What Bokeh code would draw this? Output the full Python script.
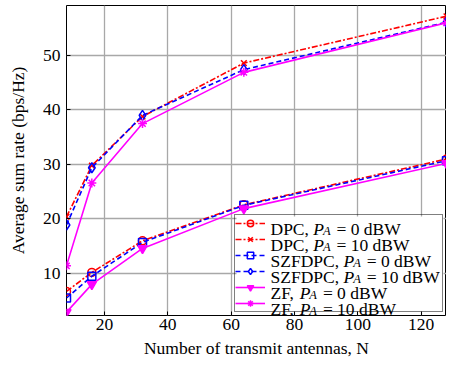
from bokeh.plotting import figure
from bokeh.models import Legend, LegendItem, Label, Range1d, FixedTicker, BoxAnnotation
from bokeh.embed import file_html
from bokeh.resources import INLINE

# ---------------- data ----------------
N = [8, 16, 32, 64, 128]
dpc_0 = [6.7, 10.2, 16.0, 22.6, 31.0]
dpc_10 = [20.4, 29.8, 38.8, 48.6, 57.2]
szf_0 = [5.5, 9.5, 15.7, 22.5, 30.7]
szf_10 = [18.9, 29.4, 39.0, 47.4, 56.1]
zf_0 = [2.9, 8.0, 14.6, 21.9, 30.2]
zf_10 = [11.4, 26.6, 37.5, 46.9, 56.0]

scheme_names = ["DPC", "DPC", "SZFDPC", "SZFDPC", "ZF", "ZF"]
power_values = ["0", "10", "0", "10", "0", "10"]
x_ticks = [20, 40, 60, 80, 100, 120]
y_ticks = [10, 20, 30, 40, 50]
x_label_text = "Number of transmit antennas, N"
y_label_text = "Average sum rate (bps/Hz)"

# ---------------- style ----------------
FONT = "Times New Roman"
FS = 17.5
W, H = 446, 362
BL, BR, BT, BB = 66, 0, 5, 47
FW, FH = W - BL - BR, H - BT - BB

p = figure(width=W, height=H, output_backend="svg", toolbar_location=None,
           x_range=Range1d(8, 128), y_range=Range1d(2.29, 59.17),
           min_border_left=BL, min_border_right=BR, min_border_top=BT,
           min_border_bottom=BB)
p.background_fill_color = "white"
p.border_fill_color = "white"
p.outline_line_color = "black"
p.outline_line_width = 1

p.xaxis.ticker = FixedTicker(ticks=x_ticks)
p.yaxis.ticker = FixedTicker(ticks=y_ticks)
for ax in (p.xaxis[0], p.yaxis[0]):
    ax.axis_line_color = None
    ax.major_tick_in = 4
    ax.major_tick_out = 0
    ax.minor_tick_in = 0
    ax.minor_tick_out = 0
    ax.major_tick_line_color = "black"
    ax.major_label_text_font = FONT
    ax.major_label_text_font_size = f"{FS}px"
    ax.major_label_text_color = "black"
    ax.axis_label_text_font = FONT
    ax.axis_label_text_font_size = f"{FS}px"
    ax.axis_label_text_font_style = "normal"
    ax.axis_label_text_color = "black"
p.xaxis.major_label_standoff = 3
p.yaxis.major_label_standoff = 6
p.yaxis.axis_label = y_label_text
p.yaxis.axis_label_standoff = 12
p.xaxis.axis_label = x_label_text
p.xaxis.axis_label_standoff = 5

p.grid.grid_line_color = "#a8a8a8"
p.grid.grid_line_width = 1.3

# ---------------- series ----------------
series = [
    (dpc_0, "red", "6 2 2 2", "circle", 8),
    (dpc_10, "red", "6 2 2 2", "x", 8),
    (szf_0, "blue", "5 3", "square", 8),
    (szf_10, "blue", "5 3", "diamond", 10),
    (zf_0, "magenta", "solid", "inverted_triangle", 9),
    (zf_10, "magenta", "solid", "asterisk", 9),
]
items = []
for ys, col, dash, mk, sz in series:
    lr = p.line(N, ys, line_color=col, line_width=1.6, line_dash=dash)
    fill = col if mk == "inverted_triangle" else None
    sr = p.scatter(N, ys, marker=mk, size=sz, line_color=col, line_width=1.5,
                   fill_color=fill)
    items.append(LegendItem(label=" ", renderers=[lr, sr]))

# ---------------- legend ----------------
GW, GS, LW, RH, SP, MG = 30, 4, 173, 16, 0, 3
leg_w = GW + GS + LW
leg_h = len(items) * RH + (len(items) - 1) * SP
box = BoxAnnotation(left=FW - MG - leg_w, right=FW - MG, bottom=MG, top=MG + leg_h,
                    left_units="screen", right_units="screen",
                    bottom_units="screen", top_units="screen",
                    fill_color="white", fill_alpha=1.0, line_color=None,
                    level="underlay")
p.add_layout(box)
legend = Legend(items=items, location="bottom_right", margin=MG, padding=0,
                spacing=SP, glyph_width=GW, glyph_height=RH, label_height=RH,
                label_width=LW, label_standoff=GS, label_text_font_size="6px",
                border_line_color="black", border_line_width=1,
                background_fill_alpha=0.0)
p.add_layout(legend)

# Times-compatible advance widths (em)
ROMAN = {" ": .25, ",": .25, "=": .564, "0": .5, "1": .5, "A": .722, "B": .667,
         "C": .667, "D": .722, "F": .556, "P": .556, "S": .556, "Z": .611,
         "d": .5, "W": .944}
ITALIC = {"P": .611, "A": .611}


def tw(txt, italic, size):
    tab = ITALIC if italic else ROMAN
    return sum(tab.get(c, .5) for c in txt) * size


def add_text(x, y, txt, italic=False, size=FS):
    p.add_layout(Label(x=x, y=y, x_units="screen", y_units="screen", text=txt,
                       text_font=FONT, text_font_size=f"{size}px",
                       text_font_style="italic" if italic else "normal",
                       text_color="black", text_align="left",
                       text_baseline="alphabetic", level="overlay"))


tx0 = FW - MG - leg_w + GW + GS
top_up = MG + leg_h
SUB = 12.5
for i, (name, pw) in enumerate(zip(scheme_names, power_values)):
    base = top_up - RH / 2 - i * (RH + SP) - 4.6
    x = tx0
    parts = [(name + ", ", False, FS, 0, 0), ("P", True, FS, 0, -1),
             ("A", True, SUB, -2, 1.5), ("= " + pw + " dBW", False, FS, 0, 0)]
    for txt, it, sz, dy, gap in parts:
        add_text(x, base + dy, txt, it, sz)
        x += tw(txt, it, sz) + gap
        if txt == "A":
            x += 0.25 * FS

open("out.html", "w").write(file_html(p, INLINE))
